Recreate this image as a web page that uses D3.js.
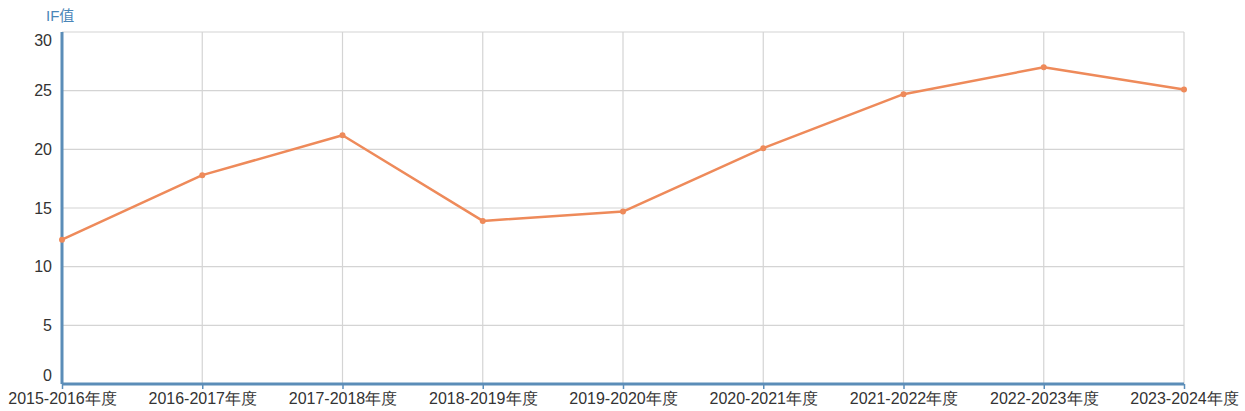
<!DOCTYPE html>
<html><head><meta charset="utf-8">
<script src="https://cdn.jsdelivr.net/npm/d3@7"></script>
<style>body{margin:0;background:#fff;}svg{display:block;font-family:"Liberation Sans",Arial,"Noto Sans CJK SC",sans-serif;}</style>
</head><body>
<svg id="c" width="1245" height="411"></svg>
<script>
const categories = ["2015-2016年度","2016-2017年度","2017-2018年度","2018-2019年度","2019-2020年度","2020-2021年度","2021-2022年度","2022-2023年度","2023-2024年度"];
const ifValues = [12.3, 17.8, 21.2, 13.9, 14.7, 20.1, 24.7, 27.0, 25.1];
const yTicks = [0, 5, 10, 15, 20, 25, 30];
const yTitle = "IF值";

(function () {
const svg = d3.select("#c");
const mL = 62, mR = 1184, mT = 32, mB = 384;
const x = d3.scalePoint().domain(categories).range([mL, mR]);
const y = d3.scaleLinear().domain([0, 30]).range([mB, mT]);

// grid
svg.append("g").selectAll("line").data(yTicks).join("line")
  .attr("x1", mL).attr("x2", mR).attr("y1", d => y(d)).attr("y2", d => y(d))
  .attr("stroke", "#d4d4d4").attr("stroke-width", 1.2);
svg.append("g").selectAll("line").data(categories).join("line")
  .attr("x1", d => x(d)).attr("x2", d => x(d)).attr("y1", mT).attr("y2", mB)
  .attr("stroke", "#d4d4d4").attr("stroke-width", 1.2);

// x axis
const xa = svg.append("g").attr("transform", `translate(0,${mB})`)
  .call(d3.axisBottom(x).tickSize(5).tickPadding(4));
xa.select(".domain").attr("stroke", "#5b8db8").attr("stroke-width", 3).attr("d", `M${mL},0H${mR}`);
xa.selectAll(".tick line").attr("stroke", "#5b8db8").attr("stroke-width", 1.5);
xa.selectAll("text").attr("fill", "#333").style("font-size", "16px");

// y axis
const ya = svg.append("g").attr("transform", `translate(${mL},0)`)
  .call(d3.axisLeft(y).tickValues(yTicks).tickSize(0).tickPadding(10));
ya.select(".domain").attr("stroke", "#5b8db8").attr("stroke-width", 3).attr("d", `M0,${mT}V${mB}`);
ya.selectAll("text").attr("fill", "#333").style("font-size", "16px")
  .attr("dy", d => d === 0 ? "-0.25em" : d === 30 ? "0.82em" : "0.32em");

svg.append("text").attr("x", 46).attr("y", 21).text(yTitle)
  .attr("fill", "#4a86b8").style("font-size", "15px");

// line
const line = d3.line().x((d, i) => x(categories[i])).y(d => y(d));
svg.append("path").datum(ifValues).attr("d", line)
  .attr("fill", "none").attr("stroke", "#ee8a5a").attr("stroke-width", 2.5).attr("stroke-linejoin", "round");
svg.append("g").selectAll("circle").data(ifValues).join("circle")
  .attr("cx", (d, i) => x(categories[i])).attr("cy", d => y(d)).attr("r", 3)
  .attr("fill", "#ee8a5a");
})();
</script>
</body></html>
